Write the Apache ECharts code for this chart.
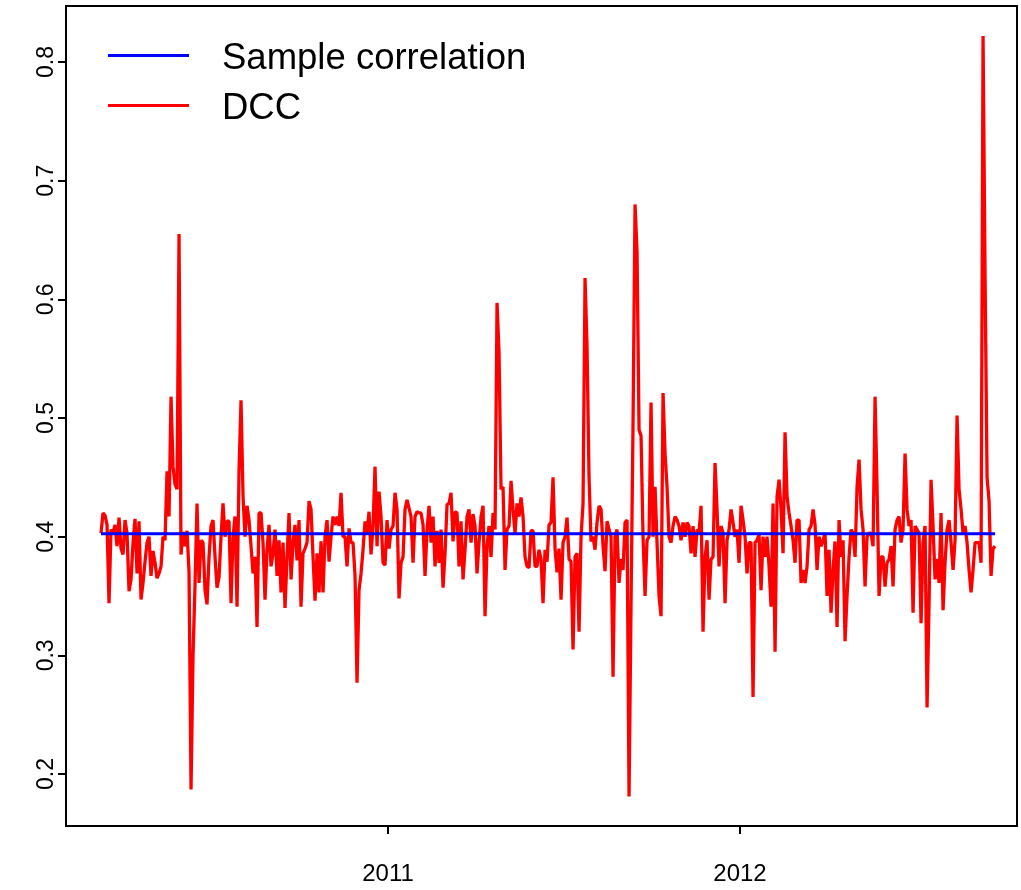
<!DOCTYPE html>
<html><head><meta charset="utf-8">
<script src="https://cdn.jsdelivr.net/npm/echarts@6/dist/echarts.min.js"></script>
<style>html,body{margin:0;padding:0;background:#fff}#c{width:1021px;height:890px}</style>
</head><body><div id="c"></div>
<script>
const seriesNames = ['Sample correlation', 'DCC'];
const sampleCorrelation = 0.4025;
const startYear = 2010.1847;
const stepYear = 0.005682;
const dcc = [
0.403,0.42,0.418,0.41,0.344,0.406,0.403,0.41,0.392,0.416,
0.39,0.385,0.414,0.403,0.354,0.364,0.395,0.415,0.369,0.413,
0.347,0.361,0.379,0.395,0.40,0.367,0.388,0.378,0.365,0.369,
0.375,0.40,0.397,0.455,0.417,0.518,0.459,0.444,0.44,0.655,
0.385,0.404,0.392,0.405,0.37,0.187,0.30,0.36,0.428,0.361,
0.397,0.395,0.355,0.343,0.383,0.409,0.414,0.383,0.357,0.366,
0.40,0.428,0.40,0.413,0.413,0.344,0.40,0.417,0.341,0.456,
0.515,0.434,0.40,0.426,0.414,0.392,0.369,0.383,0.324,0.42,
0.42,0.395,0.347,0.389,0.41,0.375,0.386,0.406,0.367,0.397,
0.353,0.395,0.34,0.383,0.42,0.364,0.395,0.41,0.38,0.414,
0.341,0.386,0.39,0.395,0.43,0.423,0.383,0.346,0.386,0.353,
0.396,0.353,0.40,0.414,0.379,0.40,0.417,0.41,0.417,0.409,
0.437,0.40,0.40,0.375,0.407,0.395,0.395,0.367,0.277,0.355,
0.369,0.389,0.413,0.403,0.421,0.385,0.409,0.459,0.392,0.438,
0.417,0.378,0.376,0.414,0.39,0.406,0.409,0.437,0.423,0.348,
0.378,0.383,0.423,0.431,0.424,0.417,0.378,0.417,0.421,0.42,
0.42,0.41,0.367,0.406,0.426,0.395,0.417,0.375,0.405,0.378,
0.406,0.357,0.386,0.427,0.428,0.437,0.396,0.421,0.42,0.375,
0.413,0.364,0.389,0.417,0.423,0.395,0.419,0.409,0.369,0.395,
0.417,0.426,0.333,0.392,0.409,0.383,0.42,0.406,0.597,0.555,
0.44,0.442,0.372,0.406,0.409,0.447,0.423,0.403,0.428,0.417,
0.433,0.417,0.383,0.375,0.374,0.405,0.405,0.375,0.375,0.389,
0.381,0.344,0.389,0.379,0.41,0.412,0.45,0.39,0.37,0.39,
0.347,0.395,0.40,0.416,0.381,0.379,0.305,0.383,0.386,0.32,
0.40,0.428,0.618,0.56,0.45,0.396,0.40,0.389,0.412,0.426,
0.423,0.392,0.371,0.413,0.406,0.40,0.282,0.40,0.406,0.361,
0.381,0.372,0.412,0.414,0.181,0.344,0.496,0.68,0.64,0.49,
0.485,0.40,0.35,0.397,0.40,0.513,0.40,0.442,0.395,0.35,
0.333,0.521,0.47,0.442,0.40,0.395,0.409,0.417,0.414,0.409,
0.397,0.412,0.40,0.412,0.409,0.386,0.409,0.383,0.406,0.403,
0.426,0.32,0.383,0.397,0.347,0.381,0.383,0.462,0.423,0.375,
0.409,0.403,0.344,0.397,0.406,0.423,0.412,0.40,0.406,0.378,
0.426,0.414,0.40,0.369,0.395,0.395,0.265,0.395,0.397,0.402,
0.355,0.40,0.383,0.40,0.375,0.341,0.428,0.303,0.434,0.448,
0.423,0.386,0.488,0.434,0.42,0.409,0.397,0.378,0.414,0.414,
0.361,0.372,0.361,0.375,0.406,0.409,0.423,0.41,0.372,0.40,
0.392,0.397,0.403,0.35,0.389,0.336,0.372,0.396,0.324,0.414,
0.383,0.397,0.312,0.35,0.383,0.406,0.403,0.383,0.442,0.465,
0.423,0.406,0.358,0.40,0.403,0.403,0.392,0.518,0.442,0.35,
0.383,0.383,0.358,0.378,0.381,0.392,0.358,0.406,0.414,0.417,
0.395,0.406,0.47,0.423,0.409,0.414,0.336,0.409,0.406,0.403,
0.327,0.395,0.409,0.256,0.344,0.448,0.409,0.364,0.381,0.361,
0.42,0.338,0.378,0.406,0.414,0.395,0.372,0.397,0.502,0.44,
0.423,0.403,0.409,0.395,0.372,0.353,0.372,0.395,0.395,0.395,
0.378,0.822,0.62,0.45,0.43,0.367,0.39,0.392
];
const xTicks = [2011, 2012];
const yTicks = [0.2, 0.3, 0.4, 0.5, 0.6, 0.7, 0.8];
const xRange = [2010.0852, 2012.7869];
const yRange = [0.1562, 0.8472];

const years = dcc.map((v, i) => startYear + i * stepYear);
const dccData = dcc.map((v, i) => [years[i], v]);
const sampleData = years.map(t => [t, sampleCorrelation]);

const FONT = 'Liberation Sans, Arial, Helvetica, sans-serif';
const chart = echarts.init(document.getElementById('c'), null, {renderer: 'canvas'});
chart.setOption({
  animation: false,
  backgroundColor: '#ffffff',
  grid: {left: 66, right: 4, top: 6, bottom: 64, show: true, borderColor: '#000', borderWidth: 2, backgroundColor: 'transparent'},
  legend: {
    data: seriesNames,
    orient: 'vertical',
    left: 103, top: 35,
    icon: 'path://M0,0L81,0L81,3L0,3Z M0,9L0.01,9L0.01,8.99Z',
    itemWidth: 81, itemHeight: 9, itemGap: 13,
    textStyle: {fontSize: 36.5, fontFamily: FONT, color: '#000', padding: [0, 0, 0, 28], lineHeight: 34}
  },
  xAxis: {
    type: 'value', min: xRange[0], max: xRange[1],
    axisLine: {show: false}, splitLine: {show: false},
    axisTick: {show: true, customValues: xTicks, length: 8, lineStyle: {color: '#000', width: 2}},
    axisLabel: {customValues: xTicks, formatter: v => String(Math.round(v)), fontSize: 24, fontFamily: FONT, color: '#000', margin: 36}
  },
  yAxis: {
    type: 'value', min: yRange[0], max: yRange[1],
    axisLine: {show: false}, splitLine: {show: false},
    axisTick: {show: true, customValues: yTicks, length: 8, lineStyle: {color: '#000', width: 2}},
    axisLabel: {customValues: yTicks, rotate: 90, formatter: v => v.toFixed(1), fontSize: 23, fontFamily: FONT, color: '#000', margin: 8}
  },
  series: [
    {name: 'DCC', type: 'line', data: dccData, symbol: 'none', showSymbol: false, lineStyle: {color: '#ff0000', width: 3.3}, itemStyle: {color: '#ff0000'}, z: 2},
    {name: 'Sample correlation', type: 'line', data: sampleData, symbol: 'none', showSymbol: false, lineStyle: {color: '#0000ff', width: 3}, itemStyle: {color: '#0000ff'}, z: 3}
  ]
});
</script>
</body></html>
